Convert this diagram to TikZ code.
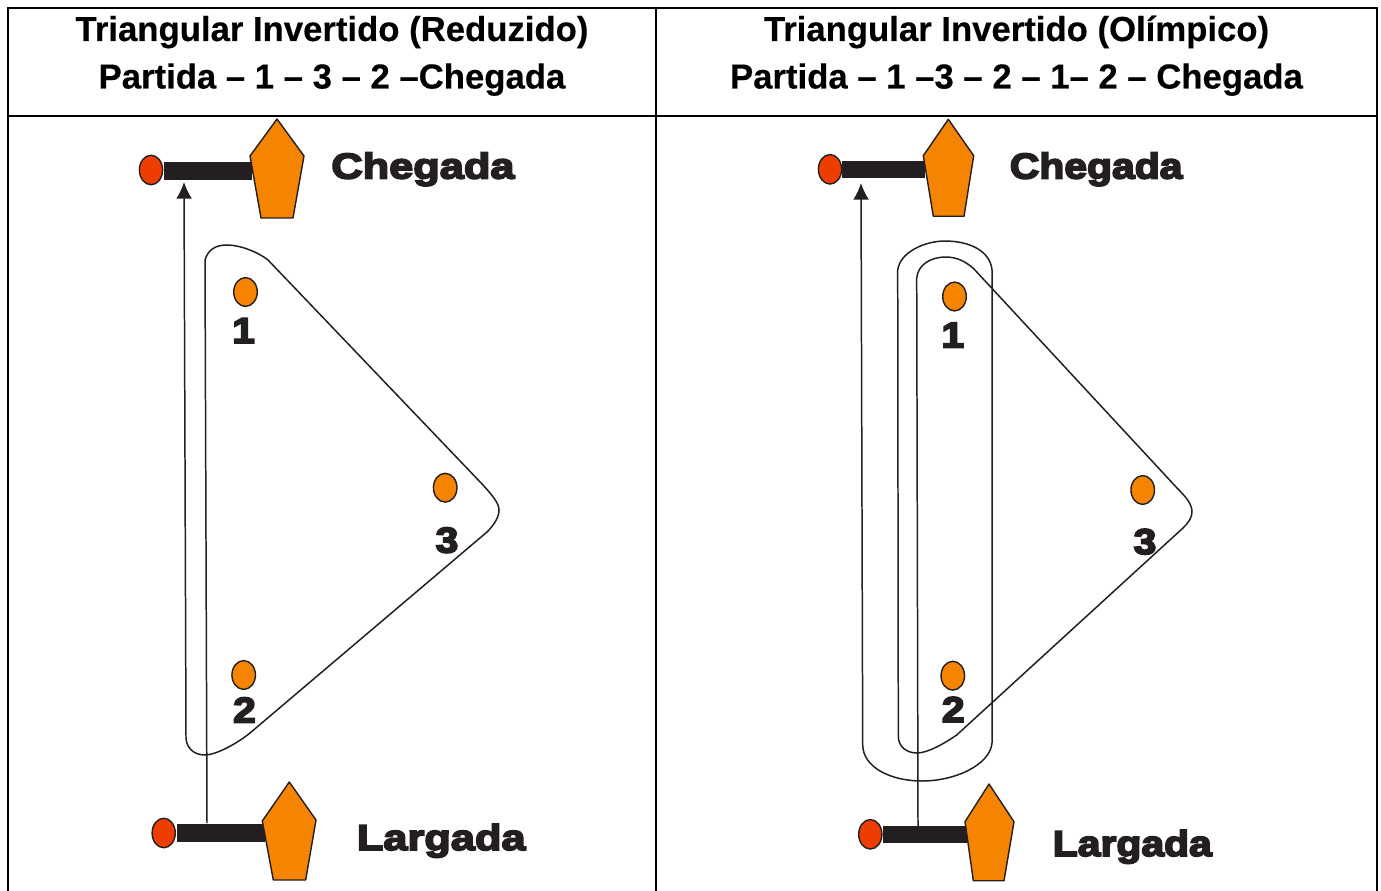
\documentclass[tikz,border=0pt]{standalone}
\usepackage{fontspec}
\setmainfont{Liberation Sans}
\newfontfamily\titlefont[FakeBold=0.35]{Liberation Sans Bold}
\newfontfamily\labelfont[FakeBold=5,FakeStretch=1.21]{Liberation Sans Bold}
\newfontfamily\labelfontb[FakeBold=5,FakeStretch=1.14]{Liberation Sans Bold}
\usetikzlibrary{arrows.meta,shapes.geometric}
\definecolor{buoyorange}{RGB}{245,132,0}
\definecolor{pinred}{RGB}{238,61,0}
\definecolor{darkink}{RGB}{35,31,32}
\tikzset{>={Latex[length=9.5pt,width=9pt]}}
\tikzset{
  tableline/.style={line width=1.3pt,black},
  title/.style={anchor=base,font=\fontsize{19.75}{23}\titlefont,inner sep=0pt},
  track/.style={line width=0.85pt,darkink},
  markbuoy/.style={ellipse,draw=darkink,line width=0.8pt,fill=buoyorange,minimum width=13.4pt,minimum height=16.4pt,inner sep=0pt,outer sep=0pt},
  pinbuoy/.style={ellipse,draw=darkink,line width=0.8pt,fill=pinred,minimum width=13.2pt,minimum height=16.8pt,inner sep=0pt,outer sep=0pt},
  bigbuoy/.style={draw=darkink,line width=0.8pt,fill=buoyorange,line join=round},
  linebar/.style={fill=darkink},
  placelabel/.style={anchor=base west,inner sep=0pt,text=darkink,font=\fontsize{20.4}{24}\labelfont},
  placelabelb/.style={anchor=base west,inner sep=0pt,text=darkink,font=\fontsize{20.4}{24}\labelfontb},
  numlabel/.style={anchor=base,inner sep=0pt,text=darkink,font=\fontsize{20.4}{24}\labelfontb}
}
\begin{document}
\begin{tikzpicture}[x=0.02cm,y=-0.02cm]
  \useasboundingbox (0,0) rectangle (1381,891);
  % table
  \draw [tableline] (8,891) -- (8,8) -- (1377,8) -- (1377,891);
  \draw [tableline] (8,116) -- (1377,116);
  \draw [tableline] (656,8) -- (656,891);
  \node [title] (titleA) at (332,41) {Triangular Invertido (Reduzido)};
  \node [title] (courseA) at (332,88.5) {Partida – 1 – 3 – 2 –Chegada};
  \node [title] (titleB) at (1016.5,41) {Triangular Invertido (Olímpico)};
  \node [title] (courseB) at (1016.5,88.5) {Partida – 1 –3 – 2 – 1– 2 – Chegada};
  % left course
  \coordinate (startA) at (207,823);
  \coordinate (endA) at (184,182);
  \draw [track,->] (startA) -- (205,260) .. controls (208,250) and (215,245) .. (227,245)
    .. controls (240,245) and (258,252) .. (268,260) -- (483,485)
    .. controls (492,495) and (499,503) .. (499,510) .. controls (499,518) and (493,526) .. (487,532)
    -- (250,733) .. controls (235,745) and (215,755) .. (205,755)
    .. controls (193,755) and (186,747) .. (186,737) -- (endA);
  \fill [linebar] (164,162) rectangle (252,180);
  \node [pinbuoy] (pinA) at (151,170) {};
  \draw [bigbuoy] (277,119) -- (304,156) -- (293,218) -- (261,218) -- (250,156) -- cycle;
  \node [placelabel] (finishA) at (331,178.5) {Chegada};
  \fill [linebar] (177,824) rectangle (265,842);
  \node [pinbuoy] (pinC) at (163.7,833) {};
  \draw [bigbuoy] (289.3,782) -- (316,820) -- (305.7,880) -- (273.3,880) -- (262.3,821) -- cycle;
  \node [placelabel] (startlabelA) at (356.5,850) {Largada};
  \node [markbuoy] (oneA) at (245.5,292) {};
  \node [markbuoy] (twoA) at (243.7,675) {};
  \node [markbuoy] (threeA) at (445.2,487.7) {};
  \node [numlabel] (numoneA) at (243.5,343) {1};
  \node [numlabel] (numtwoA) at (244.5,722.5) {2};
  \node [numlabel] (numthreeA) at (447,552.5) {3};
  % right course
  \coordinate (startB) at (918,826);
  \coordinate (endB) at (861,183);
  \draw [track,->] (startB) -- (916.7,278) .. controls (918,265) and (930,257) .. (946,257)
    .. controls (957,257) and (966,262) .. (973.3,268.3) -- (1177,488)
    .. controls (1186,497) and (1192,504) .. (1192,512) .. controls (1192,518) and (1188,523) .. (1183,528)
    -- (956.7,735) .. controls (945,743) and (928,753) .. (917,753)
    .. controls (906,753) and (898.3,746) .. (898.3,736.7) -- (897.7,270)
    .. controls (900,252) and (925,241) .. (945,241) .. controls (968,241) and (990,250) .. (992,270)
    -- (992,743) .. controls (990,765) and (955,781) .. (922,781)
    .. controls (890,781) and (863,767) .. (862.7,745) -- (endB);
  \fill [linebar] (842,161) rectangle (925.3,178);
  \node [pinbuoy] (pinB) at (830,169.3) {};
  \draw [bigbuoy] (948.3,119.3) -- (973.7,155.7) -- (964,216.3) -- (933.3,216.3) -- (923.3,155.7) -- cycle;
  \node [placelabelb] (finishB) at (1009.5,178.5) {Chegada};
  \fill [linebar] (883,826) rectangle (966.7,842.7);
  \node [pinbuoy] (pinD) at (870.3,834.3) {};
  \draw [bigbuoy] (989,784) -- (1014,821.7) -- (1004,880.7) -- (973.3,880.7) -- (965,821.7) -- cycle;
  \node [placelabelb] (startlabelB) at (1052.5,856) {Largada};
  \node [markbuoy] (oneB) at (954.5,296.5) {};
  \node [markbuoy] (twoB) at (952.8,675.7) {};
  \node [markbuoy] (threeB) at (1142.7,490) {};
  \node [numlabel] (numoneB) at (952.7,347.5) {1};
  \node [numlabel] (numtwoB) at (953.3,722) {2};
  \node [numlabel] (numthreeB) at (1145,554) {3};
\end{tikzpicture}
\end{document}
